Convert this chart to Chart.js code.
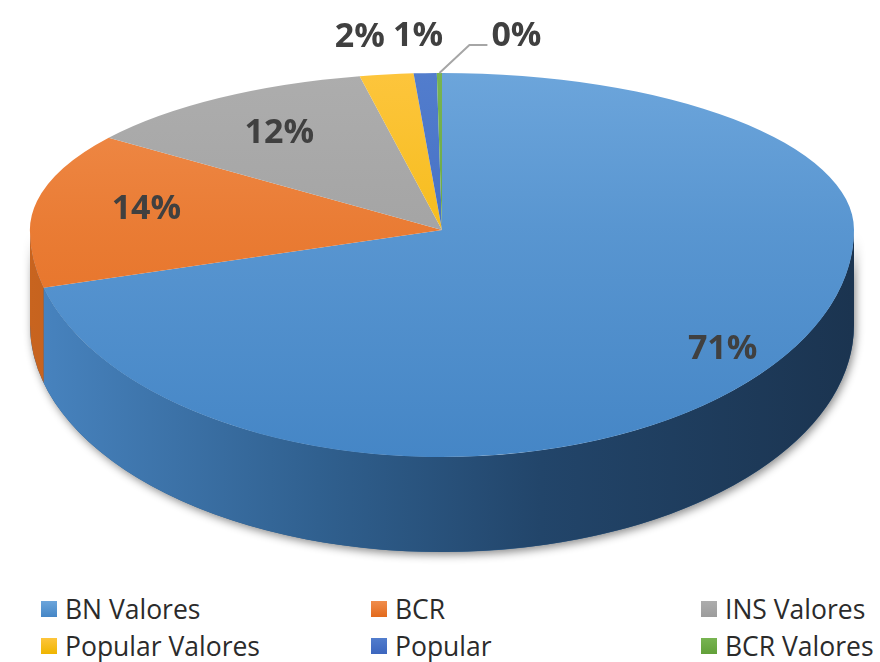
<!DOCTYPE html>
<html>
<head>
<meta charset="utf-8">
<script src="https://cdn.jsdelivr.net/npm/chart.js@4.4.1/dist/chart.umd.min.js"></script>
<style>
  html, body { margin: 0; padding: 0; background: #fff; }
  #wrap { position: relative; width: 880px; height: 662px; overflow: hidden; }
  #box { position: absolute; left: 0; top: 0; width: 880px; height: 580px; }
  #legend {
    position: absolute; left: 41px; top: 590px;
    display: grid; grid-template-columns: 330px 330px 180px; grid-auto-rows: 37px;
    font-family: "Open Sans", "Noto Sans", sans-serif; font-size: 26.5px; color: #2b2b2b;
  }
  #legend .item { display: flex; align-items: center; white-space: nowrap; }
  #legend .sq { width: 16px; height: 16px; margin-right: 8px; flex: none; }
</style>
</head>
<body>
<div id="wrap">
  <div id="box"><canvas id="pie"></canvas></div>
  <div id="legend"></div>
</div>
<script>
const labels = ["BN Valores", "BCR", "INS Valores", "Popular Valores", "Popular", "BCR Valores"];
const values = [70.9, 14.1, 11.8, 2.1, 0.9, 0.2];

// colores: [arriba, abajo] de la cara superior, y el lateral
const topColors = [
  ["#6CA5DB", "#4586C6"],
  ["#F08D4C", "#E36A1C"],
  ["#ADADAD", "#9C9C9C"],
  ["#FDC53C", "#EFB500"],
  ["#527DCD", "#3C66BE"],
  ["#78B451", "#62A039"],
];
const sideColors = [
  ["#4884C0", "#30608F", "#22456A", "#1B3450"],
  ["#C8641F", "#A9511A", "#8E4414", "#7A3A10"],
  ["#8E8E8E", "#7A7A7A", "#686868", "#585858"],
  ["#D9A300", "#C29100", "#A87E00", "#916C00"],
  ["#3A62AE", "#2F5296", "#27457E", "#203A6A"],
  ["#5E963A", "#4F7F30", "#426B28", "#375A21"],
];

// geometría: la mitad de atrás se ve más aplastada (perspectiva)
const CX = 442, CY = 230, RX = 412, RY_BACK = 157, RY_FRONT = 227, DEPTH = 95;

const total = values.reduce((a, b) => a + b, 0);
const pctText = (v) => Math.round((v / total) * 100) + "%";

const frontRange = (s, e) => {
  const a = Math.max(s, 0);
  const b = Math.min(e, Math.PI);
  return b > a ? [a, b] : null;
};

const sideGradient = (ctx, stops) => {
  const g = ctx.createLinearGradient(CX - RX, 0, CX + RX, 0);
  g.addColorStop(0, stops[0]);
  g.addColorStop(0.35, stops[1]);
  g.addColorStop(0.62, stops[2]);
  g.addColorStop(1, stops[3]);
  return g;
};

const flatten = (ctx, arc, ry) => {
  ctx.translate(CX, CY);
  ctx.scale(RX / arc.outerRadius, ry / arc.outerRadius);
  ctx.translate(-arc.x, -arc.y);
};

const ellipsePoint = (angle, f) => {
  const s = Math.sin(angle);
  return {
    x: CX + RX * f * Math.cos(angle),
    y: CY + (s < 0 ? RY_BACK : RY_FRONT) * f * s,
  };
};

const pie3d = {
  id: "pie3d",
  beforeDatasetsDraw(chart) {
    const ctx = chart.ctx;
    const arcs = chart.getDatasetMeta(0).data;
    if (!arcs.length) return;

    // sombra bajo el lateral
    ctx.save();
    ctx.shadowColor = "rgba(0,0,0,0.45)";
    ctx.shadowBlur = 9;
    ctx.shadowOffsetX = 2;
    ctx.shadowOffsetY = 3;
    ctx.beginPath();
    ctx.ellipse(CX, CY, RX, RY_FRONT, 0, 0, Math.PI);
    ctx.ellipse(CX, CY + DEPTH, RX, RY_FRONT, 0, Math.PI, 0, true);
    ctx.closePath();
    ctx.fillStyle = sideColors[0][1];
    ctx.fill();
    ctx.restore();

    // lateral de cada porción visible
    arcs.forEach((arc, i) => {
      const r = frontRange(arc.startAngle, arc.endAngle);
      if (!r) return;
      ctx.save();
      ctx.beginPath();
      ctx.ellipse(CX, CY, RX, RY_FRONT, 0, r[0], r[1]);
      ctx.ellipse(CX, CY + DEPTH, RX, RY_FRONT, 0, r[1], r[0], true);
      ctx.closePath();
      ctx.fillStyle = sideGradient(ctx, sideColors[i]);
      ctx.fill();
      ctx.restore();
    });

    // mitad de atrás de la cara superior (la dibuja Chart.js)
    ctx.save();
    ctx.beginPath();
    ctx.rect(0, 0, chart.width, CY);
    ctx.clip();
    flatten(ctx, arcs[0], RY_BACK);
  },
  afterDatasetsDraw(chart) {
    const ctx = chart.ctx;
    ctx.restore();

    const arcs = chart.getDatasetMeta(0).data;

    // mitad delantera de la cara superior
    ctx.save();
    ctx.beginPath();
    ctx.rect(0, CY, chart.width, chart.height - CY);
    ctx.clip();
    flatten(ctx, arcs[0], RY_FRONT);
    arcs.forEach((arc) => arc.draw(ctx));
    ctx.restore();

    // etiquetas de porcentaje
    ctx.save();
    ctx.font = "bold 34px 'Open Sans', 'Noto Sans', sans-serif";
    ctx.fillStyle = "#404040";
    ctx.textBaseline = "middle";

    let leftLimit = Infinity;
    for (let i = arcs.length - 1; i >= 0; i--) {
      const arc = arcs[i];
      const mid = (arc.startAngle + arc.endAngle) / 2;
      const pct = (values[i] / total) * 100;
      const text = pctText(values[i]);
      const w = ctx.measureText(text).width;

      if (pct >= 5) {
        const p = ellipsePoint(mid, Math.sin(mid) < 0 ? 0.73 : 0.86);
        ctx.textAlign = "center";
        ctx.fillText(text, p.x, p.y);
        continue;
      }

      if (pct < 0.5) {
        // línea guía para la porción muy pequeña
        const e = ellipsePoint(mid, 1);
        ctx.strokeStyle = "#A6A6A6";
        ctx.lineWidth = 2;
        ctx.beginPath();
        ctx.moveTo(e.x, e.y);
        ctx.lineTo(e.x + 30, 45);
        ctx.lineTo(e.x + 48, 45);
        ctx.stroke();
        ctx.textAlign = "left";
        ctx.fillText(text, e.x + 52, 36);
        continue;
      }

      const p = ellipsePoint(mid, 1.25);
      let x = p.x - 3;
      if (x + w / 2 > leftLimit - 8) x = leftLimit - 8 - w / 2;
      ctx.textAlign = "center";
      ctx.fillText(text, x, p.y + 2);
      leftLimit = x - w / 2;
    }
    ctx.restore();
  },
};

const faceColor = (context) => {
  const chart = context.chart;
  const area = chart.chartArea;
  const c = topColors[context.dataIndex];
  if (!area) return c[0];
  const cy = (area.top + area.bottom) / 2;
  const r = Math.min(area.right - area.left, area.bottom - area.top) / 2;
  const g = chart.ctx.createLinearGradient(0, cy - r, 0, cy + r);
  g.addColorStop(0, c[0]);
  g.addColorStop(1, c[1]);
  return g;
};

new Chart(document.getElementById("pie"), {
  type: "pie",
  data: {
    labels: labels,
    datasets: [
      {
        data: values,
        backgroundColor: faceColor,
        borderWidth: 0,
        clip: false,
      },
    ],
  },
  options: {
    responsive: true,
    maintainAspectRatio: false,
    animation: false,
    events: [],
    plugins: {
      legend: { display: false },
      tooltip: { enabled: false },
    },
  },
  plugins: [pie3d],
});

// leyenda
const legend = document.getElementById("legend");
labels.forEach((name, i) => {
  const item = document.createElement("div");
  item.className = "item";
  const sq = document.createElement("span");
  sq.className = "sq";
  sq.style.background = `linear-gradient(${topColors[i][0]}, ${topColors[i][1]})`;
  const t = document.createElement("span");
  t.textContent = name;
  item.appendChild(sq);
  item.appendChild(t);
  legend.appendChild(item);
});
</script>
</body>
</html>
